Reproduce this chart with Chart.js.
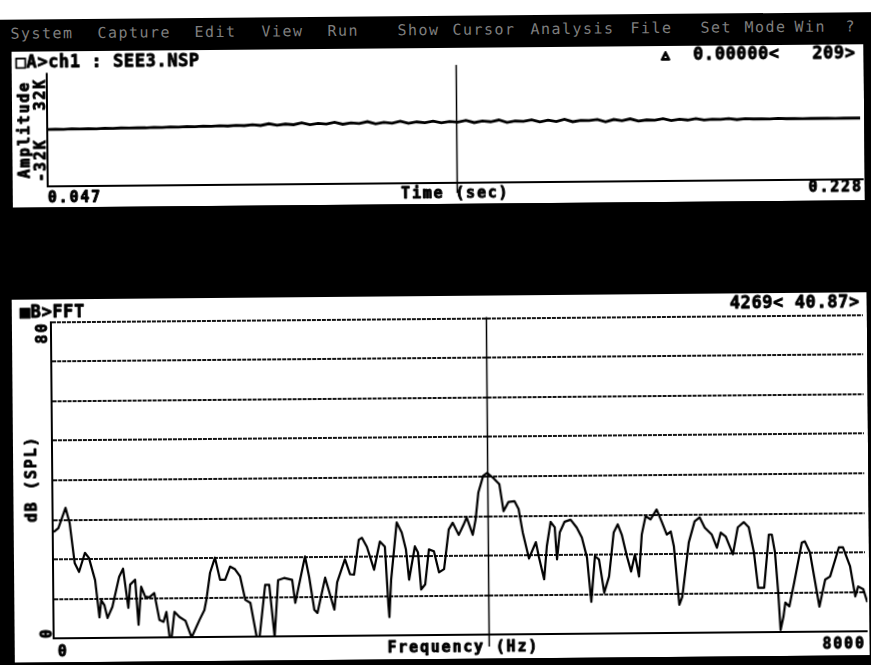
<!DOCTYPE html>
<html>
<head>
<meta charset="utf-8">
<script src="https://cdn.jsdelivr.net/npm/chart.js@4.4.1/dist/chart.umd.min.js"></script>
<style>
  html, body { margin: 0; padding: 0; width: 871px; height: 665px; overflow: hidden; background: #000; }
  /* the whole screen, slightly skewed like a photographed monitor printout */
  #screen { position: absolute; left: -20px; top: -20px; width: 911px; height: 705px; background: #000;
            transform: rotate(-0.5deg); transform-origin: 455.5px 352.5px; }
  #margin { position: absolute; left: 0; top: 0; width: 911px; height: 36px; background: #fff; }
  .item { position: absolute; top: 41px; height: 16px; line-height: 16px; white-space: pre;
          font: 15px "DejaVu Sans Mono", monospace; letter-spacing: 1.5px; color: #7e7e7e; }
  canvas { position: absolute; background: #fff; }
  #scope { left: 34px; top: 68px; }
  #fft { left: 32px; top: 316px; }
</style>
</head>
<body>
<div id="screen">
  <div id="margin"></div>
  <div id="menu"></div>
  <canvas id="scope" width="852" height="156"></canvas>
  <canvas id="fft" width="855" height="363"></canvas>
</div>
<script>
// ---- menu bar ----
const menuItems = ['System', 'Capture', 'Edit', 'View', 'Run', 'Show', 'Cursor', 'Analysis', 'File', 'Set', 'Mode', 'Win', '?'];
const menuX = [33, 120, 217, 284, 350, 420, 475, 553, 653, 723, 767, 817, 868];

// ---- window A: time signal ----
const fileLabel = '\u25A1A>ch1 : SEE3.NSP';
const timeTicks = ['0.047', '0.228'];
const timeRange = [0.047, 0.228];
const ampTicks = ['32K', '-32K'];
const ampRange = [-32768, 32767];
const cursorA = { time: 0.138, delta: '0.00000', index: 209 };
const waveSamples = [
  0, 150, -100, 200, 100, 250, 150, 350, 250, 450, 350, 550, 450, 700, 550, 850, 700, 1000, 800, 1150, 950, 1300, 1050, 1450, 1200,
  1700, 1200, 2200, 1300, 1900, 1500, 2500, 1400, 2100, 1700, 2700, 1500, 2300, 1900, 2900, 1600, 2400, 1800, 3000, 1700, 2500, 2000, 2800, 1800, 2600, 2100,
  3100, 1800, 2700, 2200, 3200, 1700, 2500, 2300, 3100, 1900, 2800, 2000, 3300, 1800, 2600, 2400, 3000, 1600, 2900, 2100, 3200, 1900, 2500, 2300, 3100, 2000, 2700, 2200, 3000, 2100, 2600, 2400, 2900, 2200, 2700,
  2500, 2600, 2400, 2700, 2500, 2600, 2400, 2500, 2600, 2500, 2400, 2600, 2500, 2500
];

// ---- window B: spectrum ----
const fftLabel = '\u25A0B>FFT';
const freqTicks = ['0', '8000'];
const freqRange = [0, 8000];
const dbTicks = ['80', '0'];
const dbRange = [0, 80];
const dbGrid = [10, 20, 30, 40, 50, 60, 70, 80];
const cursorB = { freq: 4269, db: 40.87 };
const freqHz = [
  0, 46, 118, 157, 204, 246, 305, 344, 403, 443, 462, 492, 522, 571, 640, 679, 728, 748, 797, 827,
  856, 895, 935, 984, 1033, 1073, 1102, 1132, 1151, 1181, 1230, 1289, 1348, 1427, 1476, 1496, 1535, 1584, 1633, 1683,
  1732, 1781, 1830, 1879, 1929, 1988, 2017, 2076, 2116, 2165, 2204, 2263, 2342, 2371, 2470, 2509, 2558, 2588, 2667, 2755,
  2785, 2863, 2913, 2952, 3001, 3031, 3080, 3149, 3208, 3257, 3287, 3296, 3316, 3375, 3424, 3464, 3493, 3552, 3582, 3611,
  3651, 3690, 3739, 3788, 3838, 3887, 3926, 3985, 4034, 4064, 4123, 4152, 4182, 4231, 4269, 4330, 4389, 4428, 4477, 4536,
  4576, 4615, 4674, 4743, 4772, 4822, 4851, 4890, 4930, 4950, 4979, 5028, 5087, 5146, 5196, 5245, 5284, 5323, 5363, 5412,
  5461, 5510, 5550, 5589, 5638, 5678, 5717, 5756, 5786, 5825, 5874, 5934, 5983, 6032, 6071, 6101, 6150, 6180, 6248, 6307,
  6357, 6406, 6475, 6524, 6563, 6612, 6681, 6731, 6790, 6839, 6888, 6927, 6986, 7036, 7065, 7095, 7124, 7144, 7173, 7193,
  7232, 7282, 7360, 7390, 7439, 7528, 7587, 7636, 7724, 7764, 7833, 7882, 7911, 7961, 8000
];
const levelDb = [
  26.9, 27.9, 33.0, 29.2, 19.0, 16.8, 21.6, 20.3, 14.7, 5.3, 9.6, 8.4, 5.1, 7.9, 15.5, 17.5, 7.6, 13.5, 14.7, 3.3,
  12.9, 10.4, 10.2, 11.3, 4.5, 4.0, 6.5, 0, 0, 6.5, 5.2, 4.2, 0, 4.4, 6.9, 9.4, 16.3, 20.1, 14.5, 14.5,
  17.8, 17.1, 15.3, 9.4, 8.6, 0, 0, 13.1, 13.1, 0, 14.3, 14.8, 14.3, 8.5, 20.2, 15.1, 6.7, 5.9, 14.8, 6.7,
  13.6, 19.4, 15.6, 15.5, 24.3, 24.8, 22.5, 16.7, 23.8, 22.5, 7.8, 4.7, 14.1, 28.6, 26.0, 21.7, 14.1, 22.5, 21.0, 11.6,
  12.9, 21.7, 21.2, 15.9, 16.7, 26.7, 28.4, 25.3, 27.9, 29.7, 25.3, 29.1, 36.0, 40.2, 40.87, 39.6, 38.0, 31.2, 33.5, 33.7,
  31.7, 25.8, 19.2, 23.3, 19.5, 13.9, 22.3, 28.4, 27.0, 18.9, 25.7, 28.4, 28.9, 26.9, 24.4, 19.3, 8.1, 19.6, 18.8, 10.4,
  14.5, 25.6, 27.6, 25.0, 19.5, 15.7, 20.0, 14.4, 25.0, 29.6, 28.8, 31.3, 28.2, 24.9, 25.7, 21.9, 7.2, 9.2, 22.9, 28.2,
  29.2, 26.6, 24.8, 21.5, 25.3, 24.3, 19.8, 26.6, 27.9, 26.6, 20.2, 11.3, 11.3, 24.7, 24.7, 20.2, 10.0, 0.6, 3.9, 7.5,
  6.5, 12.6, 22.6, 22.9, 20.1, 6.4, 13.2, 14.0, 21.3, 21.3, 16.5, 8.9, 11.4, 10.7, 7.4
];

// ---- menu bar text ----
const menu = document.getElementById('menu');
menuItems.forEach((name, i) => {
  const d = document.createElement('div');
  d.className = 'item';
  d.style.left = menuX[i] + 'px';
  d.textContent = name;
  menu.appendChild(d);
});

// ---- drawing helpers ----
const HEAD_FONT = 'bold 17px "DejaVu Sans Mono"';
const LABEL_FONT = 'bold 15px "DejaVu Sans Mono"';

// heavy text: fill plus a thin outline so the glyphs look like the bold screen font
function text(ctx, s, x, y, o) {
  ctx.save();
  ctx.font = o.font;
  ctx.fillStyle = '#000';
  ctx.strokeStyle = '#000';
  ctx.lineWidth = o.weight || 0.7;
  ctx.lineJoin = 'round';
  ctx.letterSpacing = o.ls || '0px';
  ctx.textAlign = o.align || 'left';
  ctx.textBaseline = 'middle';
  ctx.translate(x, y);
  if (o.rot) ctx.rotate(-Math.PI / 2);
  ctx.fillText(s, 0, 0);
  ctx.strokeText(s, 0, 0);
  ctx.restore();
}
const head = (ctx, s, x, y, align) => text(ctx, s, x, y, { font: HEAD_FONT, ls: '0.6px', align, weight: 0.8 });
const label = (ctx, s, x, y, align, rot) => text(ctx, s, x, y, { font: LABEL_FONT, ls: '1.8px', align, rot, weight: 0.9 });

const baseOptions = {
  responsive: false,
  animation: false,
  devicePixelRatio: 1,
  events: [],
  plugins: { legend: { display: false }, tooltip: { enabled: false } }
};

// ---- window A chart ----
const scopeDecor = {
  id: 'scopeDecor',
  afterDatasetsDraw(chart) {
    const { ctx, chartArea: ca, scales: { x, y } } = chart;
    const left = Math.round(ca.left), bottom = Math.round(ca.bottom);
    ctx.save();
    ctx.strokeStyle = '#000';
    ctx.lineWidth = 2;
    ctx.beginPath();
    ctx.moveTo(left, ca.top);
    ctx.lineTo(left, bottom);
    ctx.lineTo(ca.right + 3, bottom);
    ctx.stroke();
    const cx = Math.round(x.getPixelForValue(cursorA.time)) + 0.5;
    ctx.lineWidth = 1.5;
    ctx.beginPath();
    ctx.moveTo(cx, ca.top - 4.5);
    ctx.lineTo(cx, ca.bottom + 10.7);
    ctx.stroke();
    ctx.restore();

    head(ctx, fileLabel, 4, 12, 'left');
    // delta marker drawn on its own with a heavier outline
    text(ctx, '\u25B3', 654, 9.5, { font: 'bold 13px "DejaVu Sans Mono"', align: 'center', weight: 2 });
    head(ctx, cursorA.delta + '<   ' + cursorA.index + '>', 844, 9.5, 'right');
    label(ctx, 'Amplitude', 13.5, (ca.top + ca.bottom) / 2, 'center', true);
    label(ctx, ampTicks[0], 29, y.getPixelForValue(ampRange[1]) + 5, 'right', true);
    label(ctx, ampTicks[1], 29, y.getPixelForValue(ampRange[0]) - 4, 'left', true);
    label(ctx, timeTicks[0], x.getPixelForValue(timeRange[0]), ca.bottom + 13, 'left');
    label(ctx, 'Time (sec)', (ca.left + ca.right) / 2 + 1, ca.bottom + 11.5, 'center');
    label(ctx, timeTicks[1], x.getPixelForValue(timeRange[1]) + 2, ca.bottom + 8.5, 'right');
  }
};

const step = (timeRange[1] - timeRange[0]) / (waveSamples.length - 1);
new Chart(document.getElementById('scope'), {
  type: 'line',
  data: {
    datasets: [{
      data: waveSamples.map((v, i) => ({ x: timeRange[0] + i * step, y: v })),
      borderColor: '#000',
      borderWidth: 2.8,
      pointRadius: 0,
      tension: 0
    }]
  },
  options: {
    ...baseOptions,
    layout: { padding: { left: 35, right: 4, top: 21.6, bottom: 21.5 } },
    scales: {
      x: { type: 'linear', display: false, min: timeRange[0], max: timeRange[1] },
      y: { type: 'linear', display: false, min: ampRange[0], max: ampRange[1] }
    }
  },
  plugins: [scopeDecor]
});

// ---- window B chart ----
const fftDecor = {
  id: 'fftDecor',
  beforeDatasetsDraw(chart) {
    const { ctx, chartArea: ca, scales: { y } } = chart;
    ctx.save();
    ctx.strokeStyle = '#141414';
    ctx.lineWidth = 2;
    ctx.setLineDash([4, 1]);
    dbGrid.forEach(v => {
      const py = Math.round(y.getPixelForValue(v));
      ctx.beginPath();
      ctx.moveTo(ca.left, py);
      ctx.lineTo(ca.right - 2, py);
      ctx.stroke();
    });
    ctx.restore();
  },
  afterDatasetsDraw(chart) {
    const { ctx, chartArea: ca, scales: { x, y } } = chart;
    const y0 = Math.round(y.getPixelForValue(dbRange[0]));
    const axisX = Math.round(ca.left) - 1;
    ctx.save();
    ctx.strokeStyle = '#000';
    ctx.lineWidth = 2;
    ctx.beginPath();
    ctx.moveTo(axisX, Math.round(y.getPixelForValue(dbRange[1])) - 1);
    ctx.lineTo(axisX, y0);
    ctx.moveTo(axisX - 1, y0);
    ctx.lineTo(ca.right, y0);
    ctx.stroke();
    const cx = Math.round(x.getPixelForValue(cursorB.freq)) + 0.5;
    ctx.lineWidth = 1.5;
    ctx.beginPath();
    ctx.moveTo(cx, ca.top - 1);
    ctx.lineTo(cx, ca.bottom + 11.7);
    ctx.stroke();
    ctx.restore();

    head(ctx, fftLabel, 8, 14, 'left');
    head(ctx, cursorB.freq + '< ' + cursorB.db.toFixed(2) + '>', 848, 11, 'right');
    label(ctx, dbTicks[0], 31, y.getPixelForValue(80), 'right', true);
    label(ctx, 'dB (SPL)', 19, 179.5, 'center', true);
    label(ctx, dbTicks[1], 33, y0, 'left', true);
    label(ctx, freqTicks[0], x.getPixelForValue(freqRange[0]) + 3, ca.bottom + 13.7, 'left');
    label(ctx, 'Frequency (Hz)', 448.5, ca.bottom + 12.7, 'center');
    label(ctx, freqTicks[1], x.getPixelForValue(freqRange[1]) - 2, ca.bottom + 13.2, 'right');
  }
};

new Chart(document.getElementById('fft'), {
  type: 'line',
  data: {
    datasets: [{
      data: freqHz.map((f, i) => ({ x: f, y: levelDb[i] })),
      borderColor: '#000',
      borderWidth: 2.2,
      pointRadius: 0,
      tension: 0,
      borderJoinStyle: 'round'
    }]
  },
  options: {
    ...baseOptions,
    layout: { padding: { left: 40, right: 2, top: 22.5, bottom: 23.7 } },
    scales: {
      x: { type: 'linear', display: false, min: freqRange[0], max: freqRange[1] },
      y: { type: 'linear', display: false, min: dbRange[0], max: dbRange[1] }
    }
  },
  plugins: [fftDecor]
});
</script>
</body>
</html>
